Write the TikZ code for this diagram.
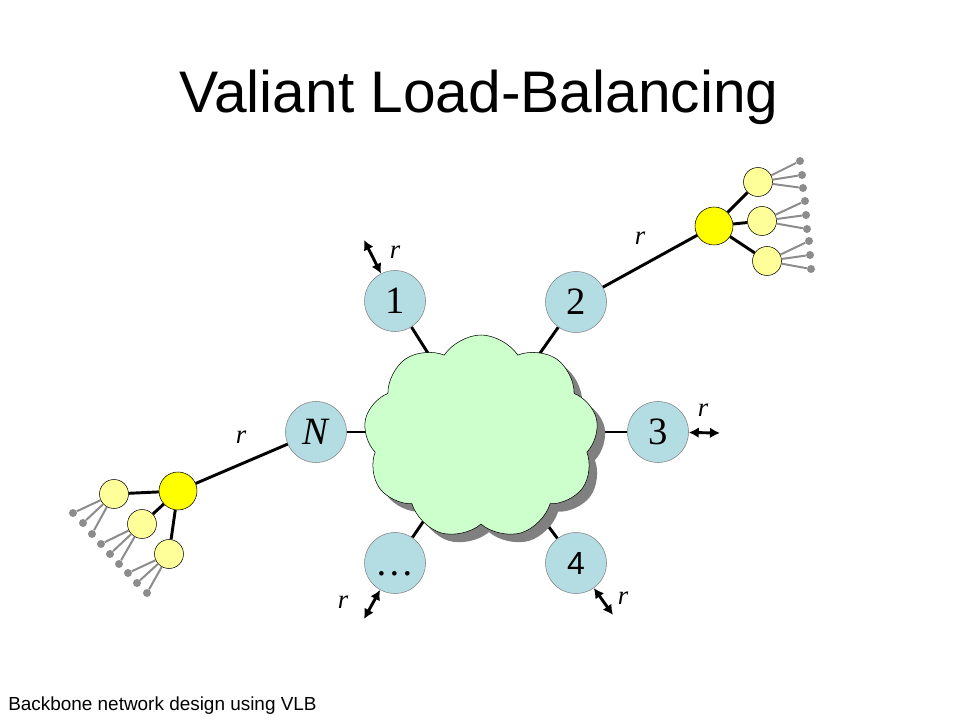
\documentclass[tikz,border=0pt]{standalone}
\usepackage{fontspec}
\setmainfont{Liberation Serif}
\newfontfamily\arialfont{Liberation Sans}
\usetikzlibrary{shapes.symbols, shadows, backgrounds, arrows.meta, positioning}

\definecolor{stationblue}{RGB}{180,220,227}
\definecolor{cloudgreen}{RGB}{204,255,204}
\definecolor{hubyellow}{RGB}{255,255,0}
\definecolor{hostyellow}{RGB}{255,255,153}
\definecolor{leafgray}{RGB}{140,140,140}

\begin{document}
\begin{tikzpicture}[x=0.75pt, y=-0.75pt, >={Latex[length=7.5pt, width=8pt]},
    station/.style={circle, draw=gray, fill=stationblue, minimum size=45.75pt, inner sep=0pt, font=\fontsize{29}{31}\selectfont},
    hub/.style={circle, draw, fill=hubyellow, minimum size=28.5pt, inner sep=0pt},
    host/.style={circle, draw, fill=hostyellow, minimum size=21.75pt, inner sep=0pt},
    leaf/.style={circle, fill=leafgray, minimum size=6pt, inner sep=0pt},
    link/.style={line width=2.2pt},
    twig/.style={line width=1.5pt, draw=leafgray},
    rarrow/.style={<->, line width=2.2pt},
    rate/.style={font=\fontsize{20}{22}\selectfont\itshape}]

    \useasboundingbox (0,0) rectangle (960,720);

    % Titles
    \node (title) [anchor=base, font=\arialfont\fontsize{44}{48}\selectfont] at (479,113) {Valiant Load-Balancing};
    \node (footer) [anchor=base west, inner sep=0pt, font=\arialfont\fontsize{14.2}{16}\selectfont] at (8,710) {Backbone network design using VLB};

    % Nodes
    \node (cloud) [cloud, cloud puffs=9, cloud puff arc=115, aspect=1.15, draw, fill=cloudgreen, minimum width=176pt, minimum height=153pt,
        drop shadow={shadow xshift=6pt, shadow yshift=-6pt, fill=gray, opacity=1}] at (481,437) {};
    \node (n1) [station] at (395,301) {1};
    \node (n2) [station] at (576,302) {2};
    \node (n3) [station] at (658,432) {3};
    \node (n4) [station, font=\arialfont\fontsize{24}{26}\selectfont] at (576,563) {4};
    \node (nd) [station] at (395,563) {\vphantom{1}\dots};
    \node (nN) [station] at (316,432) {\textit{N}};

    \node (hubR) [hub] at (714,226) {};
    \node (cR1) [host] at (758,182) {};
    \node (cR2) [host] at (762,221) {};
    \node (cR3) [host] at (767,261) {};

    \node (hubL) [hub] at (178,491) {};
    \node (cL1) [host] at (114,494) {};
    \node (cL2) [host] at (142,524) {};
    \node (cL3) [host] at (169,554) {};

    % Leaves
    \foreach \p/\i/\x/\y in {R1/1/800/161, R1/2/802/175, R1/3/803/188,
                             R2/4/805/201, R2/5/806/215, R2/6/807/229,
                             R3/7/809/241, R3/8/810/255, R3/9/811/269,
                             L1/1/73/513, L1/2/83/523, L1/3/92/534,
                             L2/4/101/544, L2/5/110/554, L2/6/119/564,
                             L3/7/128/573, L3/8/137/583, L3/9/147/593} {
        \node (d\p\i) [leaf] at (\x,\y) {};
        \draw[twig] (c\p) -- (d\p\i);
    }

    % Links to the backbone
    \begin{pgfonlayer}{background}
        \draw[link] (n1) -- (cloud.center);
        \draw[link] (n2) -- (cloud.center);
        \draw[link] (n3) -- (cloud.center |- n3);
        \draw[link] (n4) -- (cloud.center);
        \draw[link] (nd) -- (cloud.center);
        \draw[link] (nN) -- (cloud.center |- nN);
    \end{pgfonlayer}

    % Access links
    \draw[link] (n2) -- (hubR);
    \draw[link] (hubR) -- (cR1);
    \draw[link] (hubR) -- (cR2);
    \draw[link] (hubR) -- (cR3);
    \draw[link] (nN) -- (hubL);
    \draw[link] (hubL) -- (cL1);
    \draw[link] (hubL) -- (cL2);
    \draw[link] (hubL) -- (cL3);

    % Arrows
    \coordinate (e1) at (364,240);
    \coordinate (e3) at (720,433);
    \coordinate (e4) at (613,615);
    \coordinate (ed) at (364,619);
    \draw[rarrow] (n1) -- (e1);
    \draw[rarrow] (n3) -- (e3);
    \draw[rarrow] (n4) -- (e4);
    \draw[rarrow] (nd) -- (ed);

    % Rate labels
    \node (r1) [rate] at (395,252) {r};
    \node (r3) [rate] at (703,410) {r};
    \node (r4) [rate] at (623,598) {r};
    \node (rd) [rate] at (343,602) {r};
    \node (rR) [rate] at (640,238) {r};
    \node (rL) [rate] at (241,437) {r};
\end{tikzpicture}
\end{document}
